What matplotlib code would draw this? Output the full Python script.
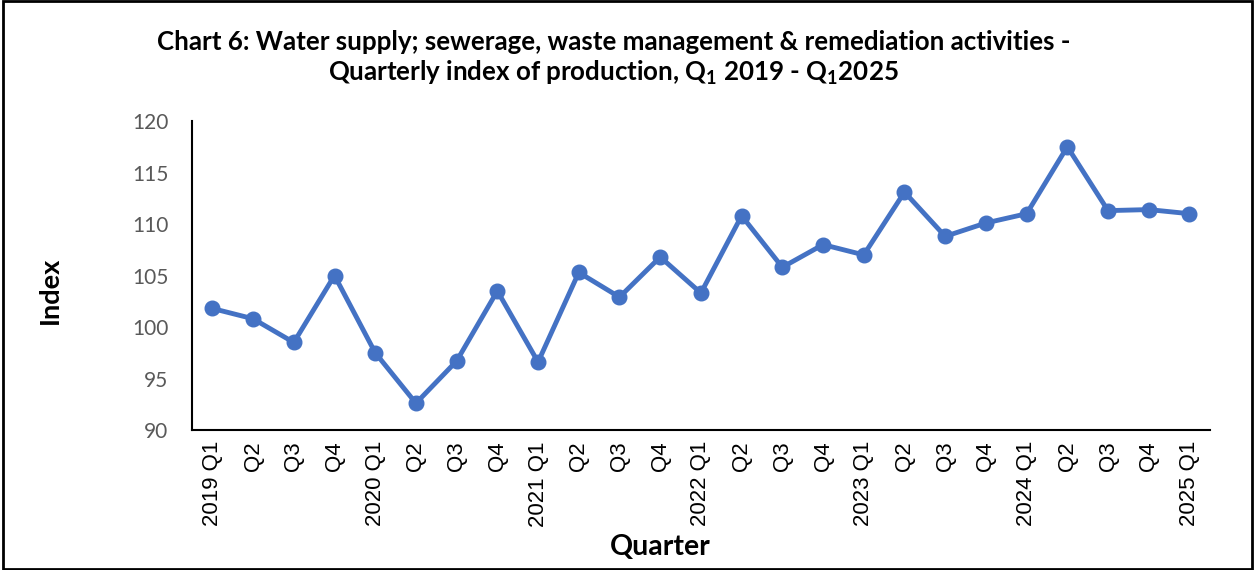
import matplotlib
matplotlib.use("Agg")
import matplotlib.pyplot as plt
from matplotlib.patches import Rectangle

plt.rcParams['font.family'] = ['Lato', 'DejaVu Sans']
plt.rcParams['mathtext.fontset'] = 'custom'
plt.rcParams['mathtext.rm'] = 'Lato:bold'
plt.rcParams['mathtext.bf'] = 'Lato:bold'

# quarterly index values, 2019 Q1 - 2025 Q1
quarters = ['2019 Q1', 'Q2', 'Q3', 'Q4',
            '2020 Q1', 'Q2', 'Q3', 'Q4',
            '2021 Q1', 'Q2', 'Q3', 'Q4',
            '2022 Q1', 'Q2', 'Q3', 'Q4',
            '2023 Q1', 'Q2', 'Q3', 'Q4',
            '2024 Q1', 'Q2', 'Q3', 'Q4',
            '2025 Q1']
index_values = [101.8, 100.8, 98.5, 105.0,
                97.5, 92.6, 96.7, 103.5,
                96.6, 105.3, 102.9, 106.8,
                103.3, 110.8, 105.8, 108.0,
                107.0, 113.1, 108.8, 110.1,
                111.0, 117.5, 111.3, 111.4,
                111.0]
y_ticks = [90, 95, 100, 105, 110, 115, 120]

fig = plt.figure(figsize=(12.55, 5.7), dpi=100)
ax = fig.add_axes([0.153, 0.2456, 0.811, 0.5421])

x = list(range(len(quarters)))
ax.plot(x, index_values, color='#4472C4', linewidth=3.5,
        marker='o', markersize=10.5, solid_joinstyle='round')

ax.set_xlim(-0.5, len(quarters) - 0.5)
ax.set_ylim(90, 120)
ax.set_yticks(y_ticks)
ax.set_xticks(x)
ax.set_xticklabels(quarters, rotation=90, fontsize=16, color='black',
                   family='Liberation Sans')
ax.tick_params(axis='y', length=0, labelsize=15, labelcolor='#595959', pad=17)
ax.tick_params(axis='x', length=0, pad=8)

for side in ['top', 'right']:
    ax.spines[side].set_visible(False)
for side in ['left', 'bottom']:
    ax.spines[side].set_linewidth(1.5)
    ax.spines[side].set_color('black')

fig.text(0.0399, 0.491, 'Index', rotation=90, fontsize=19.5, fontweight='bold',
         ha='center', va='center')
fig.text(0.526, 0.04, 'Quarter', fontsize=20.5, fontweight='bold',
         ha='center', va='center')

fig.text(0.489, 0.926,
         'Chart 6: Water supply; sewerage, waste management & remediation activities -',
         fontsize=18.6, fontweight='bold', ha='center', va='center')
fig.text(0.489, 0.872,
         r'Quarterly index of production, Q$_1$ 2019 - Q$_1$2025',
         fontsize=18.6, fontweight='bold', ha='center', va='center')

fig.patches.append(Rectangle((0.002, 0.002), 0.996, 0.996, transform=fig.transFigure,
                             fill=False, edgecolor='black', linewidth=2))

fig.savefig('out.png', dpi=100, facecolor='white')
